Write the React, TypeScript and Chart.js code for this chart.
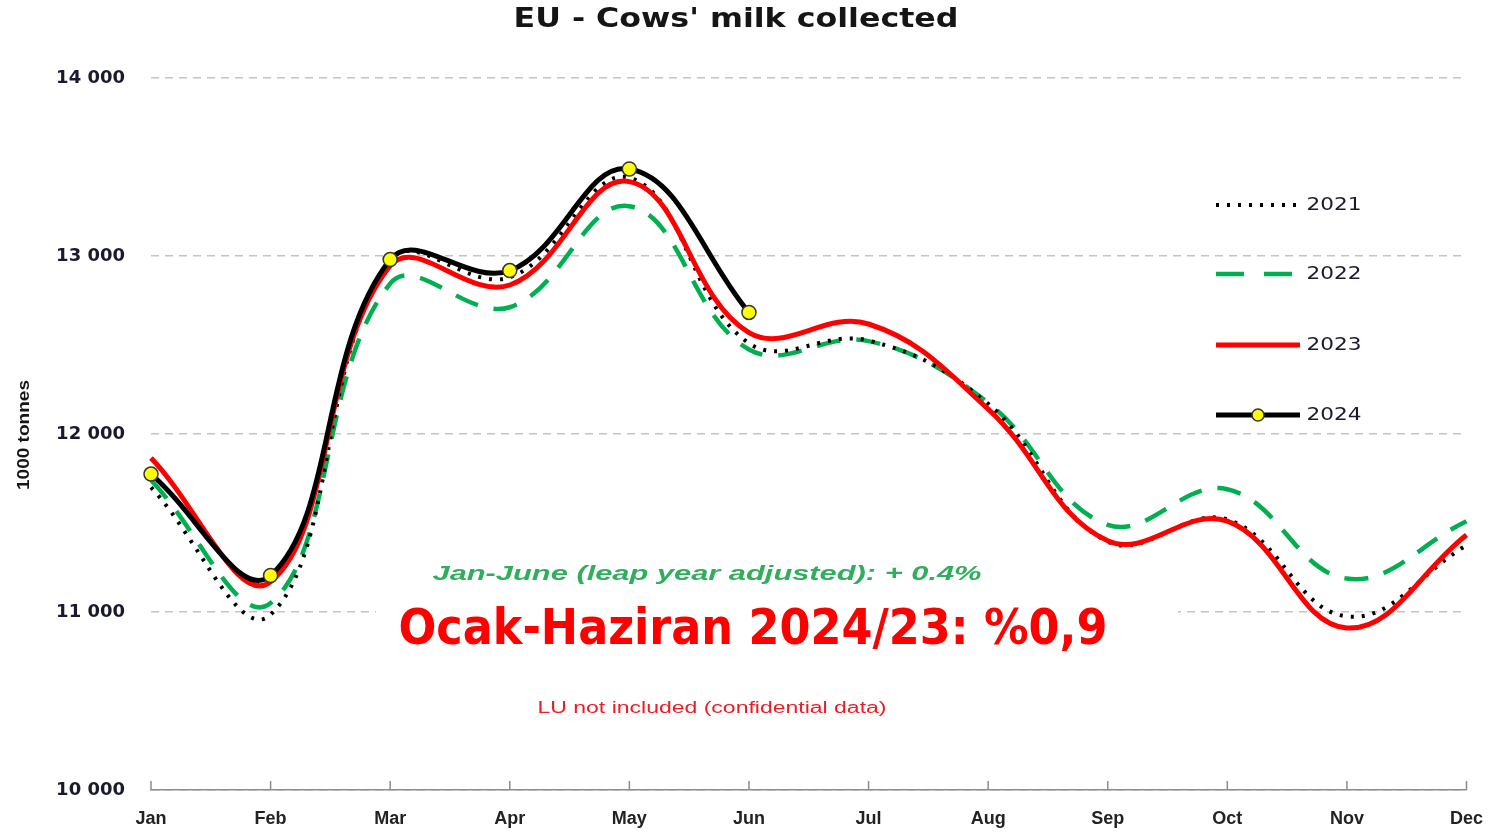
import React, { useEffect, useRef } from "react";
import { Chart, registerables } from "chart.js";

Chart.register(...registerables);

const months = ["Jan", "Feb", "Mar", "Apr", "May", "Jun", "Jul", "Aug", "Sep", "Oct", "Nov", "Dec"];
const seriesLabels = ["2021", "2022", "2023", "2024"];
const values2021 = [11700, 10985, 12975, 12880, 13440, 12510, 12525, 12170, 11395, 11520, 10975, 11375];
const values2022 = [11740, 11050, 12845, 12712, 13280, 12475, 12522, 12175, 11490, 11690, 11188, 11510];
const values2023 = [11865, 11170, 12945, 12837, 13418, 12570, 12618, 12140, 11400, 11510, 10910, 11433];
const values2024 = [11775, 11205, 12980, 12918, 13489, 12683];
const yMin = 10000;
const yMax = 14000;
const yStep = 1000;

const titleText = "EU - Cows' milk collected";
const yTitleText = "1000 tonnes";
const noteGreen = "Jan-June (leap year adjusted): + 0.4%";
const noteRed = "Ocak-Haziran 2024/23: %0,9";
const noteSmall = "LU not included (confidential data)";

function fitText(
  ctx: CanvasRenderingContext2D,
  text: string,
  cx: number,
  cy: number,
  width: number,
  font: string,
  color: string,
  rotate = 0
) {
  ctx.save();
  ctx.font = font;
  const w = ctx.measureText(text).width;
  ctx.translate(cx, cy);
  if (rotate) ctx.rotate(rotate);
  ctx.scale(width / w, 1);
  ctx.fillStyle = color;
  ctx.textAlign = "center";
  ctx.textBaseline = "middle";
  ctx.fillText(text, 0, 0);
  ctx.restore();
}

const decorPlugin = {
  id: "decor",
  beforeDatasetsDraw(chart: any) {
    const ctx = chart.ctx as CanvasRenderingContext2D;
    ctx.save();
    ctx.fillStyle = "#ffffff";
    ctx.fillRect(376, 556, 802, 172);
    ctx.restore();
    const xs = chart.scales.x;
    const bottom = chart.chartArea.bottom;
    ctx.save();
    ctx.strokeStyle = "#8c8c8c";
    ctx.lineWidth = 1.5;
    for (let i = 0; i < months.length; i++) {
      const x = xs.getPixelForTick(i);
      ctx.beginPath();
      ctx.moveTo(x, bottom);
      ctx.lineTo(x, bottom - 9);
      ctx.stroke();
    }
    ctx.restore();
  },
  afterDraw(chart: any) {
    const ctx = chart.ctx as CanvasRenderingContext2D;
    fitText(ctx, titleText, 736, 20, 445, "bold 27px 'DejaVu Sans'", "#151515");
    fitText(ctx, yTitleText, 25, 435, 110, "bold 16px 'Liberation Sans Narrow', 'Liberation Sans'", "#151515", -Math.PI / 2);
    fitText(ctx, noteGreen, 707, 574, 549, "italic bold 21px 'Liberation Sans'", "#2fae5c");
    fitText(ctx, noteRed, 753, 631, 709, "bold 50px 'DejaVu Sans Condensed', 'DejaVu Sans'", "#ff0000");
    fitText(ctx, noteSmall, 712, 709, 349, "16px 'Liberation Sans'", "#ee1c25");
    const rows = [205, 274, 345, 415];
    const metas = chart.data.datasets;
    seriesLabels.forEach((lab, i) => {
      const ds = metas.find((d: any) => d.label === lab);
      const y = rows[i];
      ctx.save();
      ctx.strokeStyle = ds.borderColor;
      ctx.lineWidth = ds.borderWidth;
      ctx.setLineDash(ds.borderDash ? (lab === "2022" ? [28, 20] : ds.borderDash) : []);
      ctx.beginPath();
      ctx.moveTo(1216, y);
      ctx.lineTo(1300, y);
      ctx.stroke();
      ctx.setLineDash([]);
      if (ds.pointRadius > 0) {
        ctx.beginPath();
        ctx.arc(1258, y, ds.pointRadius - 1, 0, Math.PI * 2);
        ctx.fillStyle = ds.pointBackgroundColor;
        ctx.fill();
        ctx.lineWidth = ds.pointBorderWidth;
        ctx.strokeStyle = ds.pointBorderColor;
        ctx.stroke();
      }
      ctx.restore();
      fitText(ctx, lab, 1334, y, 55, "18px 'DejaVu Sans'", "#1a1a2e");
    });
  },
};

export default function App() {
  const ref = useRef<HTMLCanvasElement | null>(null);

  useEffect(() => {
    document.body.style.margin = "0";
    const canvas = ref.current;
    if (!canvas) return;
    const chart = new Chart(canvas, {
      type: "line",
      data: {
        labels: months,
        datasets: [
          {
            label: "2021",
            data: values2021,
            borderColor: "#000000",
            borderWidth: 4,
            borderDash: [3, 8],
            pointRadius: 0,
            tension: 0.4,
            fill: false,
            clip: false,
            order: 2,
          },
          {
            label: "2022",
            data: values2022,
            borderColor: "#00b050",
            borderWidth: 4.5,
            borderDash: [24, 16],
            pointRadius: 0,
            tension: 0.4,
            fill: false,
            clip: false,
            order: 3,
          },
          {
            label: "2023",
            data: values2023,
            borderColor: "#ff0000",
            borderWidth: 5,
            pointRadius: 0,
            tension: 0.4,
            fill: false,
            clip: false,
            order: 1,
          },
          {
            label: "2024",
            data: values2024,
            borderColor: "#000000",
            borderWidth: 5,
            pointRadius: 7,
            pointBackgroundColor: "#ffff00",
            pointBorderColor: "#333333",
            pointBorderWidth: 1.5,
            tension: 0.4,
            fill: false,
            clip: false,
            order: 0,
          },
        ] as any,
      },
      options: {
        responsive: false,
        animation: false,
        devicePixelRatio: 1,
        layout: { padding: { top: 78, right: 29, left: 0, bottom: 0 } },
        plugins: {
          legend: { display: false },
          title: { display: false },
          tooltip: { enabled: false },
        },
        scales: {
          x: {
            type: "category",
            offset: false,
            grid: { display: false, drawTicks: false },
            border: { display: true, color: "#8c8c8c", width: 1.5 },
            ticks: {
              padding: 18,
              color: "#222222",
              font: { family: "'Liberation Sans'", size: 18, weight: "bold" },
              maxRotation: 0,
              autoSkip: false,
            },
            afterFit: (scale: any) => {
              scale.height = 43;
            },
          },
          y: {
            min: yMin,
            max: yMax,
            grid: { color: "#c4c4c4", lineWidth: 1.5, drawTicks: false },
            border: { display: false, dash: [8, 6] },
            ticks: {
              stepSize: yStep,
              padding: 26,
              color: "#1a1a2e",
              font: { family: "'DejaVu Sans'", size: 18, weight: "bold" },
              callback: (v: any) => {
                const n = Number(v);
                const th = Math.floor(n / 1000);
                const rest = String(n % 1000).padStart(3, "0");
                return th + " " + rest;
              },
            },
            afterFit: (scale: any) => {
              scale.width = 151;
            },
          },
        },
      },
      plugins: [decorPlugin],
    });
    return () => chart.destroy();
  }, []);

  return (
    <div style={{ width: 1501, height: 833, position: "relative", background: "#fff" }}>
      <canvas ref={ref} width={1501} height={833} style={{ width: 1501, height: 833, display: "block" }} />
    </div>
  );
}
